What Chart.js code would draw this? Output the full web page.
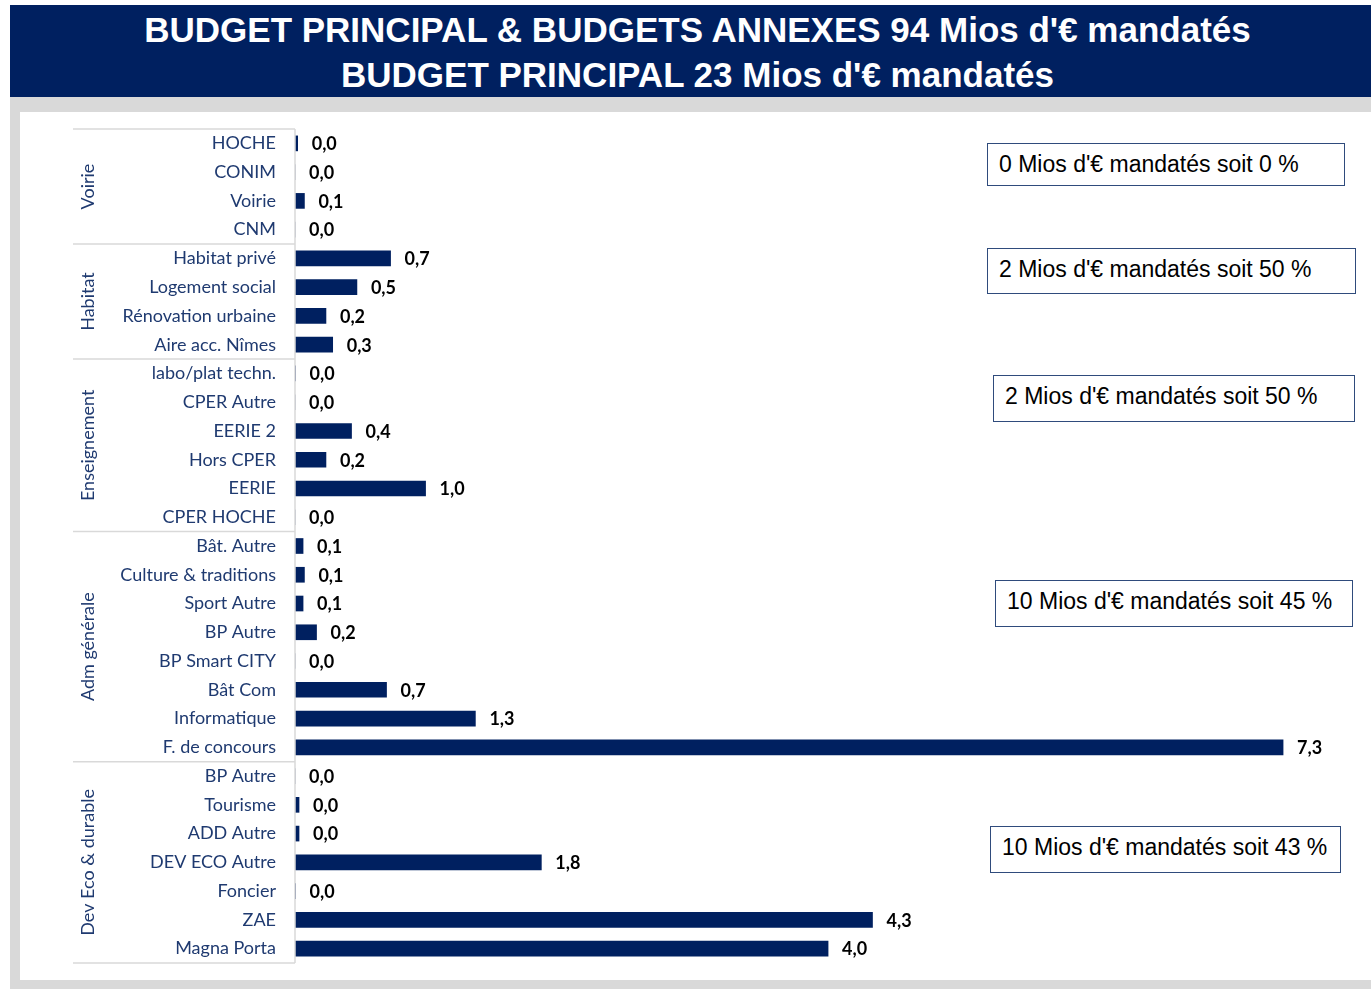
<!DOCTYPE html>
<html>
<head>
<meta charset="utf-8">
<script src="https://cdn.jsdelivr.net/npm/chart.js@4"></script>
<style>
  body { margin: 0; width: 1371px; height: 989px; background: #fff; position: relative; overflow: hidden; }
  #title { position: absolute; left: 10px; top: 5px; width: 1361px; height: 92px; background: #002060;
    color: #fff; font: bold 35px "Liberation Sans", Arial, sans-serif; text-align: center; line-height: 45px;
    padding-top: 2px; padding-left: 14px; box-sizing: border-box; }
  #frame { position: absolute; left: 10px; top: 97px; width: 1361px; height: 892px; background: #d9d9d9; }
  #inner { position: absolute; left: 20px; top: 112px; width: 1351px; height: 868px; background: #fff; }
  #canvas { display: block; width: 1351px; height: 868px; }
  .box { position: absolute; border: 1.5px solid #2f4b7c; background: #fff; box-sizing: border-box;
    font: 23px "Liberation Sans", Arial, sans-serif; color: #000; padding-left: 11px; line-height: 40px; white-space: nowrap; }
</style>
</head>
<body>
<div id="title">BUDGET PRINCIPAL &amp; BUDGETS ANNEXES 94 Mios d'€ mandatés<br>BUDGET PRINCIPAL 23 Mios d'€ mandatés</div>
<div id="frame"></div>
<div id="inner"><canvas id="canvas" width="1351" height="868"></canvas></div>
<div class="box" style="left:987px;top:143px;width:358px;height:43px;">0 Mios d'€ mandatés soit 0 %</div>
<div class="box" style="left:987px;top:248px;width:369px;height:46px;">2 Mios d'€ mandatés soit 50 %</div>
<div class="box" style="left:993px;top:375px;width:362px;height:47px;">2 Mios d'€ mandatés soit 50 %</div>
<div class="box" style="left:995px;top:580px;width:358px;height:47px;">10 Mios d'€ mandatés soit 45 %</div>
<div class="box" style="left:990px;top:826px;width:351px;height:47px;">10 Mios d'€ mandatés soit 43 %</div>
<script>
const categories = [
  "HOCHE", "CONIM", "Voirie", "CNM",
  "Habitat privé", "Logement social", "Rénovation urbaine", "Aire acc. Nîmes",
  "labo/plat techn.", "CPER Autre", "EERIE 2", "Hors CPER", "EERIE", "CPER HOCHE",
  "Bât. Autre", "Culture & traditions", "Sport Autre", "BP Autre", "BP Smart CITY", "Bât Com", "Informatique", "F. de concours",
  "BP Autre", "Tourisme", "ADD Autre", "DEV ECO Autre", "Foncier", "ZAE", "Magna Porta"
];
const groupNames = ["Voirie", "Habitat", "Enseignement", "Adm générale", "Dev Eco & durable"];
const groupSizes = [4, 4, 6, 8, 7];
const values = [
  0.02, 0, 0.07, 0,
  0.71, 0.46, 0.23, 0.28,
  0.004, 0, 0.42, 0.23, 0.97, 0,
  0.06, 0.07, 0.06, 0.16, 0, 0.68, 1.34, 7.34,
  0, 0.03, 0.03, 1.83, 0.004, 4.29, 3.96
];

const navy = "#002060";
const textNavy = "#1f3a70";
const lineGray = "#d9d9d9";

const fmt = (v) => v.toFixed(1).replace(".", ",");

const extras = {
  id: "extras",
  afterDatasetsDraw(chart) {
    const ctx = chart.ctx;
    const y = chart.scales.y;
    const area = chart.chartArea;
    const meta = chart.getDatasetMeta(0);
    const row = y.getPixelForValue(1) - y.getPixelForValue(0);

    // value labels
    ctx.save();
    ctx.fillStyle = "#000";
    ctx.font = "bold 18px Lato";
    ctx.textBaseline = "middle";
    meta.data.forEach((bar, i) => {
      const x = Math.max(bar.x, area.left) + 14;
      ctx.fillText(fmt(values[i]), x, bar.y + 1);
    });

    // axis line and group separators
    ctx.strokeStyle = lineGray;
    ctx.lineWidth = 1.5;
    ctx.beginPath();
    ctx.moveTo(area.left, area.top);
    ctx.lineTo(area.left, area.bottom);
    ctx.stroke();

    let start = 0;
    const sepLeft = 53;
    const drawSep = (py) => {
      ctx.beginPath();
      ctx.moveTo(sepLeft, py);
      ctx.lineTo(area.left, py);
      ctx.stroke();
    };
    drawSep(area.top);
    groupNames.forEach((name, g) => {
      const end = start + groupSizes[g] - 1;
      const top = y.getPixelForValue(start) - row / 2;
      const bottom = y.getPixelForValue(end) + row / 2;
      drawSep(bottom);
      ctx.save();
      ctx.translate(68, (top + bottom) / 2);
      ctx.rotate(-Math.PI / 2);
      ctx.fillStyle = textNavy;
      ctx.font = "18px Lato";
      ctx.textAlign = "center";
      ctx.textBaseline = "middle";
      ctx.fillText(name, 0, 0);
      ctx.restore();
      start = end + 1;
    });
    ctx.restore();
  }
};

const canvas = document.getElementById("canvas");
new Chart(canvas.getContext("2d"), {
  type: "bar",
  data: {
    labels: categories,
    datasets: [{
      data: values,
      backgroundColor: navy,
      borderWidth: 0,
      barThickness: 15
    }]
  },
  options: {
    indexAxis: "y",
    responsive: false,
    animation: false,
    layout: { padding: { top: 17, bottom: 17, left: 0, right: 26 } },
    plugins: { legend: { display: false }, tooltip: { enabled: false } },
    scales: {
      x: { display: false, min: 0, max: 7.8 },
      y: {
        grid: { display: false },
        border: { display: false },
        ticks: { color: textNavy, font: { family: "Lato", size: 18 }, padding: 11, autoSkip: false },
        afterFit: (scale) => {
          scale.width = 275;
          scale.paddingTop = 0;
          scale.paddingBottom = 0;
        }
      }
    }
  },
  plugins: [extras]
});
</script>
</body>
</html>
